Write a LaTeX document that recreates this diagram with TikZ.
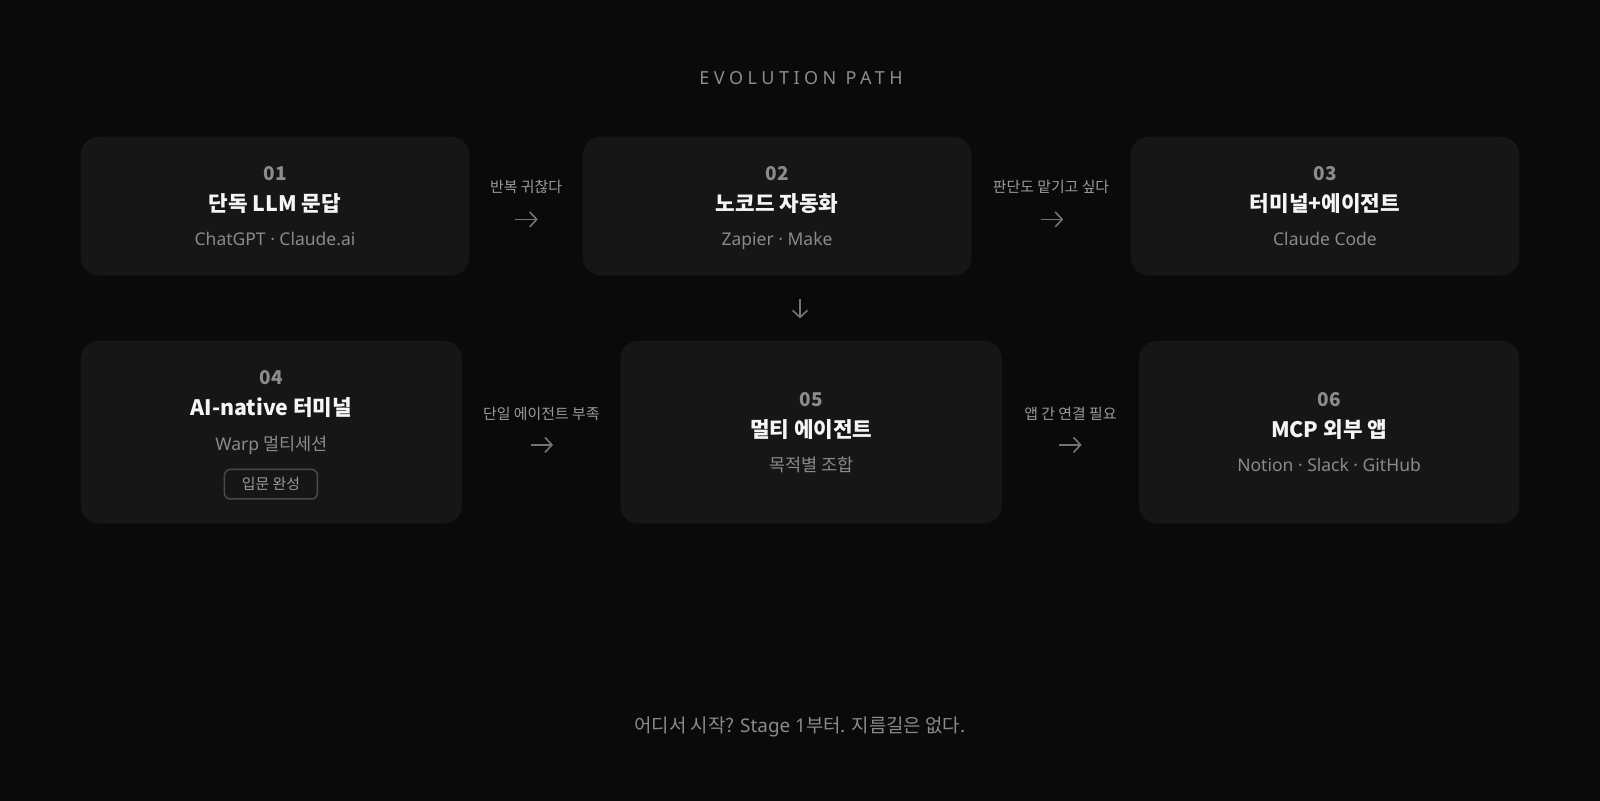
\documentclass[tikz,border=0pt]{standalone}
\usepackage{fontspec}
\setmainfont{Noto Sans CJK KR}
\newfontfamily\lt{Noto Sans}
\newfontfamily\spacedfont[LetterSpace=25]{Noto Sans}
\usetikzlibrary{arrows.meta}
\definecolor{bgc}{HTML}{0A0A0A}
\definecolor{cardc}{HTML}{161616}
\definecolor{numc}{HTML}{8C8C8C}
\definecolor{titlec}{HTML}{F5F5F5}
\definecolor{subc}{HTML}{8A8A8A}
\definecolor{labc}{HTML}{9A9A9A}
\definecolor{arrc}{HTML}{747474}
\definecolor{badgec}{HTML}{4A4A4A}
\tikzset{
  card/.style={fill=cardc, draw=none, rounded corners=18.4pt, inner sep=0pt},
  numtxt/.style={anchor=base, text=numc, font=\bfseries\fontsize{19}{20}\selectfont, inner sep=0pt},
  ttltxt/.style={anchor=base, text=titlec, font=\bfseries\fontsize{21.3}{24}\selectfont, inner sep=0pt},
  subtxt/.style={anchor=base, text=subc, font=\fontsize{17.5}{20}\selectfont, inner sep=0pt},
  labtxt/.style={anchor=base, text=labc, font=\fontsize{14.9}{16}\selectfont, inner sep=0pt},
  flow/.style={draw=arrc, line width=1.6pt, -{Straight Barb[length=7pt,width=15pt,line width=1.6pt]}},
  badge/.style={draw=badgec, line width=1.5pt, fill=cardc, rounded corners=6pt, minimum width=93pt, minimum height=29.6pt, inner sep=0pt, text=labc, font=\fontsize{14.9}{16}\selectfont},
}
\begin{document}
\begin{tikzpicture}[x=1.0204pt,y=-1.0204pt]
\useasboundingbox (0,0) rectangle (1568,784);
\fill[bgc] (-4,-4) rectangle (1572,788);

% title
\node[anchor=base, text=numc, font=\spacedfont\fontsize{18}{20}\selectfont, inner sep=0pt] (ttl) at (785,82.5) {EVOLUTION PATH};

% row 1 cards
\node[card, minimum width=388.8pt, minimum height=138.8pt] (c1) at (269.5,202) {};
\node[card, minimum width=388.8pt, minimum height=138.8pt] (c2) at (761.5,202) {};
\node[card, minimum width=388.8pt, minimum height=138.8pt] (c3) at (1298.5,202) {};
% row 2 cards
\node[card, minimum width=381.6pt, minimum height=182.7pt] (c4) at (266,423.5) {};
\node[card, minimum width=381.6pt, minimum height=182.7pt] (c5) at (795,423.5) {};
\node[card, minimum width=380.6pt, minimum height=182.7pt] (c6) at (1302.5,423.5) {};

% card 1
\node[numtxt] (n1) at (269.5,177) {01};
\node[ttltxt] (t1) at (269.5,207.5) {단독 LLM 문답};
\node[subtxt] (s1) at (269.5,241) {\lt ChatGPT · Claude.ai};
% card 2
\node[numtxt] (n2) at (761.5,177) {02};
\node[ttltxt] (t2) at (761.5,207.5) {노코드 자동화};
\node[subtxt] (s2) at (761.5,241) {\lt Zapier · Make};
% card 3
\node[numtxt] (n3) at (1298.5,177) {03};
\node[ttltxt] (t3) at (1298.5,207.5) {터미널+에이전트};
\node[subtxt] (s3) at (1298.5,241) {\lt Claude Code};
% card 4
\node[numtxt] (n4) at (266,377) {04};
\node[ttltxt] (t4) at (266,407.5) {AI-native 터미널};
\node[subtxt] (s4) at (266,441) {{\lt Warp} 멀티세션};
\node[badge] (bd) at (265.5,474.5) {입문 완성};
% card 5
\node[numtxt] (n5) at (795,398) {05};
\node[ttltxt] (t5) at (795,428.5) {멀티 에이전트};
\node[subtxt] (s5) at (795,462) {목적별 조합};
% card 6
\node[numtxt] (n6) at (1302.5,398) {06};
\node[ttltxt] (t6) at (1302.5,428.5) {MCP 외부 앱};
\node[subtxt] (s6) at (1302.5,462) {\lt Notion · Slack · GitHub};

% transitions
\node[labtxt] (l1) at (515.5,189) {반복 귀찮다};
\coordinate (a1s) at (505,215);
\coordinate (a1e) at (527,215);
\draw[flow] (a1s) -- (a1e);

\node[labtxt] (l2) at (1030,189) {판단도 맡기고 싶다};
\coordinate (a2s) at (1020,215);
\coordinate (a2e) at (1042,215);
\draw[flow] (a2s) -- (a2e);

\coordinate (a3s) at (784,293);
\coordinate (a3e) at (784,312);
\draw[flow] (a3s) -- (a3e);

\node[labtxt] (l4) at (530.5,411) {단일 에이전트 부족};
\coordinate (a4s) at (520,436);
\coordinate (a4e) at (542,436);
\draw[flow] (a4s) -- (a4e);

\node[labtxt] (l5) at (1049,411) {앱 간 연결 필요};
\coordinate (a5s) at (1038,436);
\coordinate (a5e) at (1060,436);
\draw[flow] (a5s) -- (a5e);

% footer
\node[anchor=base, text=subc, font=\fontsize{18.9}{20}\selectfont, inner sep=0pt] (ft) at (784,717.5) {어디서 시작? {\lt Stage 1}부터. 지름길은 없다.};
\end{tikzpicture}
\end{document}
